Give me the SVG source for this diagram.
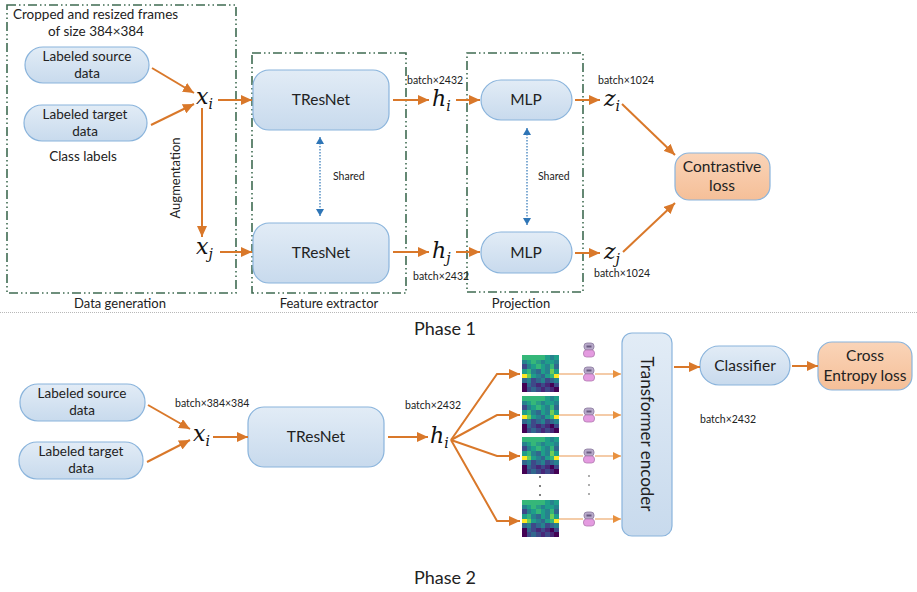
<svg xmlns="http://www.w3.org/2000/svg" xmlns:xlink="http://www.w3.org/1999/xlink" width="917" height="592" viewBox="0 0 917 592">
  <style>
    .lbl { font-family: Lato, "Liberation Sans", sans-serif; font-size: 13.5px; fill: #222; }
    .small { font-family: Lato, "Liberation Sans", sans-serif; font-size: 10.5px; fill: #222; }
    .cap { font-family: Lato, "Liberation Sans", sans-serif; font-size: 13px; fill: #222; }
    .big { font-family: Lato, "Liberation Sans", sans-serif; font-size: 15.5px; fill: #222; }
    .phase { font-family: Lato, "Liberation Sans", sans-serif; font-size: 18px; fill: #222; }
    .math { font-family: "DejaVu Serif", "Liberation Serif", serif; font-style: italic; font-size: 22px; fill: #111; }
    .sub { font-size: 14px; }
    .blue { fill: url(#gBlue); stroke: #8ab4dc; stroke-width: 1.2; }
    .peach { fill: url(#gPeach); stroke: #8ab4dc; stroke-width: 1.2; }
    .group { fill: none; stroke: #3f6b52; stroke-width: 1.6; stroke-dasharray: 9 3 1.5 3 1.5 3; }
    .arr { fill: none; stroke: #d9782a; stroke-width: 2; marker-end: url(#ah); }
    .fan { fill: none; stroke: #d9782a; stroke-width: 2; marker-end: url(#ah); }
    .thin { fill: none; stroke: #eda96e; stroke-width: 1.2; }
    .thinArr { fill: none; stroke: #eda96e; stroke-width: 1.2; marker-end: url(#ahs); }
    .shared { fill: none; stroke: #2e75b6; stroke-width: 1.2; stroke-dasharray: 1.5 1.5; marker-start: url(#bh); marker-end: url(#bh); }
    .dot { fill: #444; }
  </style>
  <defs>
    <linearGradient id="gBlue" x1="0" y1="0" x2="0" y2="1">
      <stop offset="0" stop-color="#e2ecf6"/>
      <stop offset="1" stop-color="#c8daed"/>
    </linearGradient>
    <linearGradient id="gPeach" x1="0" y1="0" x2="0" y2="1">
      <stop offset="0" stop-color="#fad4b8"/>
      <stop offset="1" stop-color="#f5bf98"/>
    </linearGradient>
    <marker id="ah" markerUnits="userSpaceOnUse" markerWidth="12" markerHeight="10" refX="11" refY="5" orient="auto">
      <path d="M0,0 L11,5 L0,10 Z" fill="#d9782a"/>
    </marker>
    <marker id="ahs" markerUnits="userSpaceOnUse" markerWidth="9" markerHeight="8" refX="8" refY="4" orient="auto">
      <path d="M0,0 L8,4 L0,8 Z" fill="#e8913f"/>
    </marker>
    <marker id="bh" markerUnits="userSpaceOnUse" markerWidth="8" markerHeight="8" refX="7" refY="4" orient="auto-start-reverse">
      <path d="M0,0 L7,4 L0,8 Z" fill="#2e75b6"/>
    </marker>
    <!-- 8x8 attention map -->
    <symbol id="heat" viewBox="0 0 8 8" preserveAspectRatio="none" shape-rendering="crispEdges">
      <g>
        <rect x="0" y="0" width="8" height="1" fill="#35b779"/>
        <rect x="5" y="0" width="1" height="1" fill="#1f9e89"/>
        <rect x="6" y="0" width="1" height="1" fill="#26828e"/>
        <rect x="7" y="0" width="1" height="1" fill="#1f9e89"/>

        <rect x="0" y="1" width="1" height="1" fill="#26828e"/>
        <rect x="1" y="1" width="1" height="1" fill="#1f9e89"/>
        <rect x="2" y="1" width="1" height="1" fill="#35b779"/>
        <rect x="3" y="1" width="1" height="1" fill="#2a9d87"/>
        <rect x="4" y="1" width="1" height="1" fill="#26828e"/>
        <rect x="5" y="1" width="1" height="1" fill="#1f9e89"/>
        <rect x="6" y="1" width="1" height="1" fill="#1f9e89"/>
        <rect x="7" y="1" width="1" height="1" fill="#26828e"/>

        <rect x="0" y="2" width="1" height="1" fill="#3e4989"/>
        <rect x="1" y="2" width="1" height="1" fill="#26828e"/>
        <rect x="2" y="2" width="1" height="1" fill="#1f9e89"/>
        <rect x="3" y="2" width="1" height="1" fill="#35b779"/>
        <rect x="4" y="2" width="1" height="1" fill="#1f9e89"/>
        <rect x="5" y="2" width="1" height="1" fill="#26828e"/>
        <rect x="6" y="2" width="1" height="1" fill="#35b779"/>
        <rect x="7" y="2" width="1" height="1" fill="#31688e"/>

        <rect x="0" y="3" width="1" height="1" fill="#1f9e89"/>
        <rect x="1" y="3" width="1" height="1" fill="#35b779"/>
        <rect x="2" y="3" width="1" height="1" fill="#26828e"/>
        <rect x="3" y="3" width="1" height="1" fill="#31688e"/>
        <rect x="4" y="3" width="1" height="1" fill="#1f9e89"/>
        <rect x="5" y="3" width="1" height="1" fill="#26828e"/>
        <rect x="6" y="3" width="1" height="1" fill="#6ece58"/>
        <rect x="7" y="3" width="1" height="1" fill="#1f9e89"/>

        <rect x="0" y="4" width="1" height="1" fill="#fde725"/>
        <rect x="1" y="4" width="1" height="1" fill="#6ece58"/>
        <rect x="2" y="4" width="1" height="1" fill="#1f9e89"/>
        <rect x="3" y="4" width="1" height="1" fill="#26828e"/>
        <rect x="4" y="4" width="1" height="1" fill="#31688e"/>
        <rect x="5" y="4" width="1" height="1" fill="#1f9e89"/>
        <rect x="6" y="4" width="1" height="1" fill="#35b779"/>
        <rect x="7" y="4" width="1" height="1" fill="#fde725"/>

        <rect x="0" y="5" width="1" height="1" fill="#31688e"/>
        <rect x="1" y="5" width="1" height="1" fill="#26828e"/>
        <rect x="2" y="5" width="1" height="1" fill="#3e4989"/>
        <rect x="3" y="5" width="1" height="1" fill="#31688e"/>
        <rect x="4" y="5" width="1" height="1" fill="#26828e"/>
        <rect x="5" y="5" width="1" height="1" fill="#3e4989"/>
        <rect x="6" y="5" width="1" height="1" fill="#31688e"/>
        <rect x="7" y="5" width="1" height="1" fill="#26828e"/>

        <rect x="0" y="6" width="1" height="1" fill="#440154"/>
        <rect x="1" y="6" width="1" height="1" fill="#31688e"/>
        <rect x="2" y="6" width="1" height="1" fill="#3e4989"/>
        <rect x="3" y="6" width="1" height="1" fill="#482878"/>
        <rect x="4" y="6" width="1" height="1" fill="#3e4989"/>
        <rect x="5" y="6" width="1" height="1" fill="#482878"/>
        <rect x="6" y="6" width="1" height="1" fill="#440154"/>
        <rect x="7" y="6" width="1" height="1" fill="#3e4989"/>

        <rect x="0" y="7" width="1" height="1" fill="#440154"/>
        <rect x="1" y="7" width="1" height="1" fill="#3e4989"/>
        <rect x="2" y="7" width="1" height="1" fill="#31688e"/>
        <rect x="3" y="7" width="1" height="1" fill="#3e4989"/>
        <rect x="4" y="7" width="1" height="1" fill="#482878"/>
        <rect x="5" y="7" width="1" height="1" fill="#3e4989"/>
        <rect x="6" y="7" width="1" height="1" fill="#482878"/>
        <rect x="7" y="7" width="1" height="1" fill="#440154"/>
      </g>
    </symbol>
    <!-- token icon -->
    <g id="tok">
      <rect x="-5" y="-7" width="10" height="7" rx="3" fill="#b7a9c9" stroke="#8a7a9e" stroke-width="0.8"/>
      <rect x="-2.5" y="-4.5" width="5" height="2" fill="#6a5a80"/>
      <rect x="-5.5" y="0" width="11" height="7" rx="3" fill="#e49be0" stroke="#b07aae" stroke-width="0.8"/>
    </g>
  </defs>

  <!-- group frames -->
  <g id="frames">
    <rect class="group" x="7" y="5" width="229" height="288"/>
    <rect class="group" x="252" y="53" width="154" height="240"/>
    <rect class="group" x="467" y="53" width="116" height="239"/>
    <text class="cap" x="120" y="308" text-anchor="middle">Data generation</text>
    <text class="cap" x="329" y="308" text-anchor="middle">Feature extractor</text>
    <text class="cap" x="521" y="308" text-anchor="middle">Projection</text>
  </g>

  <!-- phase 1 nodes -->
  <g id="p1-header">
    <text class="lbl" x="13" y="19">Cropped and resized frames</text>
    <text class="lbl" x="96" y="36" text-anchor="middle">of size 384×384</text>
  </g>
  <g id="p1-source">
    <rect class="blue" x="25" y="47" width="124" height="36" rx="18"/>
    <text class="lbl" x="87" y="61" text-anchor="middle">Labeled source</text>
    <text class="lbl" x="87" y="78" text-anchor="middle">data</text>
  </g>
  <g id="p1-target">
    <rect class="blue" x="24" y="105" width="123" height="36" rx="18"/>
    <text class="lbl" x="85" y="119" text-anchor="middle">Labeled target</text>
    <text class="lbl" x="85" y="136" text-anchor="middle">data</text>
  </g>
  <text class="lbl" x="83" y="161" text-anchor="middle">Class labels</text>
  <g id="p1-xi">
    <text class="math" x="196" y="104">x<tspan class="sub" dy="5">i</tspan></text>
  </g>
  <g id="p1-xj">
    <text class="math" x="196" y="254">x<tspan class="sub" dy="5">j</tspan></text>
  </g>
  <text class="cap" transform="translate(180,178) rotate(-90)" text-anchor="middle">Augmentation</text>

  <g id="p1-tresnet-a">
    <rect class="blue" x="253" y="70" width="136" height="60" rx="16"/>
    <text class="big" x="321" y="105" text-anchor="middle">TResNet</text>
  </g>
  <g id="p1-tresnet-b">
    <rect class="blue" x="253" y="223" width="136" height="60" rx="16"/>
    <text class="big" x="321" y="258" text-anchor="middle">TResNet</text>
  </g>
  <text class="small" x="333" y="180">Shared</text>

  <g id="p1-hi">
    <text class="math" x="432" y="106">h<tspan class="sub" dy="5">i</tspan></text>
    <text class="small" x="407" y="84">batch×2432</text>
  </g>
  <g id="p1-hj">
    <text class="math" x="432" y="258">h<tspan class="sub" dy="5">j</tspan></text>
    <text class="small" x="413" y="280">batch×2432</text>
  </g>

  <g id="p1-mlp-a">
    <rect class="blue" x="481" y="80" width="91" height="40" rx="20"/>
    <text class="big" x="526" y="105" text-anchor="middle">MLP</text>
  </g>
  <g id="p1-mlp-b">
    <rect class="blue" x="481" y="232" width="91" height="41" rx="20"/>
    <text class="big" x="526" y="258" text-anchor="middle">MLP</text>
  </g>
  <text class="small" x="538" y="180">Shared</text>

  <g id="p1-zi">
    <text class="math" x="604" y="106">z<tspan class="sub" dy="5">i</tspan></text>
    <text class="small" x="598" y="84">batch×1024</text>
  </g>
  <g id="p1-zj">
    <text class="math" x="604" y="259">z<tspan class="sub" dy="5">j</tspan></text>
    <text class="small" x="594" y="277">batch×1024</text>
  </g>

  <g id="p1-loss">
    <rect class="peach" x="675" y="153" width="95" height="47" rx="14"/>
    <text class="big" x="722" y="172" text-anchor="middle">Contrastive</text>
    <text class="big" x="722" y="191" text-anchor="middle">loss</text>
  </g>

  <!-- phase separator -->
  <line x1="0" y1="312.5" x2="917" y2="312.5" stroke="#b8b8b8" stroke-width="1" stroke-dasharray="1 1"/>
  <text class="phase" x="445" y="335" text-anchor="middle">Phase 1</text>

  <!-- phase 2 nodes -->
  <g id="p2-source">
    <rect class="blue" x="20" y="384" width="125" height="37" rx="18"/>
    <text class="lbl" x="82" y="398" text-anchor="middle">Labeled source</text>
    <text class="lbl" x="82" y="415" text-anchor="middle">data</text>
  </g>
  <g id="p2-target">
    <rect class="blue" x="19" y="442" width="124" height="37" rx="18"/>
    <text class="lbl" x="81" y="456" text-anchor="middle">Labeled target</text>
    <text class="lbl" x="81" y="473" text-anchor="middle">data</text>
  </g>
  <g id="p2-xi">
    <text class="math" x="193" y="441">x<tspan class="sub" dy="5">i</tspan></text>
    <text class="small" x="175" y="407">batch×384×384</text>
  </g>
  <g id="p2-tresnet">
    <rect class="blue" x="248" y="407" width="136" height="60" rx="16"/>
    <text class="big" x="316" y="442" text-anchor="middle">TResNet</text>
  </g>
  <g id="p2-hi">
    <text class="math" x="430" y="443">h<tspan class="sub" dy="5">i</tspan></text>
    <text class="small" x="405" y="409">batch×2432</text>
  </g>

  <g id="p2-maps">
    <use href="#heat" xlink:href="#heat" x="522" y="355" width="37" height="37"/>
    <use href="#heat" xlink:href="#heat" x="522" y="396" width="37" height="37"/>
    <use href="#heat" xlink:href="#heat" x="522" y="437" width="37" height="37"/>
    <use href="#heat" xlink:href="#heat" x="522" y="500" width="37" height="37"/>
    <circle class="dot" cx="540" cy="477" r="0.9"/>
    <circle class="dot" cx="540" cy="486" r="0.9"/>
    <circle class="dot" cx="540" cy="495" r="0.9"/>
  </g>

  <g id="p2-tokens">
    <use href="#tok" xlink:href="#tok" x="589" y="350"/>
    <use href="#tok" xlink:href="#tok" x="589" y="374"/>
    <use href="#tok" xlink:href="#tok" x="589" y="415"/>
    <use href="#tok" xlink:href="#tok" x="589" y="456"/>
    <use href="#tok" xlink:href="#tok" x="589" y="519"/>
    <circle class="dot" cx="589" cy="476" r="0.8"/>
    <circle class="dot" cx="589" cy="485" r="0.8"/>
    <circle class="dot" cx="589" cy="494" r="0.8"/>
  </g>

  <g id="p2-encoder">
    <rect class="blue" x="622" y="333" width="50" height="203" rx="10"/>
    <text class="big" transform="translate(641,434) rotate(90)" text-anchor="middle" style="font-size:17px">Transformer encoder</text>
  </g>
  <g id="p2-classifier">
    <rect class="blue" x="700" y="346" width="90" height="39" rx="19"/>
    <text class="big" x="745" y="371" text-anchor="middle">Classifier</text>
  </g>
  <text class="small" x="700" y="423">batch×2432</text>
  <g id="p2-ce">
    <rect class="peach" x="818" y="342" width="94" height="48" rx="14"/>
    <text class="big" x="865" y="361" text-anchor="middle">Cross</text>
    <text class="big" x="865" y="381" text-anchor="middle">Entropy loss</text>
  </g>
  <text class="phase" x="445" y="584" text-anchor="middle">Phase 2</text>

  <!-- connectors -->
  <g id="connectors">
    <line class="arr" x1="152" y1="68" x2="194" y2="93"/>
    <line class="arr" x1="151" y1="125" x2="194" y2="104"/>
    <line class="arr" x1="218" y1="100" x2="252" y2="100"/>
    <line class="arr" x1="202" y1="108" x2="202" y2="237"/>
    <line class="arr" x1="220" y1="252" x2="252" y2="252"/>

    <line class="shared" x1="320" y1="137" x2="320" y2="216"/>
    <line class="shared" x1="527" y1="128" x2="527" y2="225"/>

    <line class="arr" x1="393" y1="100" x2="429" y2="100"/>
    <line class="arr" x1="393" y1="252" x2="429" y2="252"/>
    <line class="arr" x1="456" y1="100" x2="480" y2="100"/>
    <line class="arr" x1="456" y1="252" x2="480" y2="252"/>
    <line class="arr" x1="575" y1="100" x2="600" y2="100"/>
    <line class="arr" x1="575" y1="253" x2="600" y2="253"/>
    <line class="arr" x1="622" y1="104" x2="675" y2="155"/>
    <line class="arr" x1="623" y1="252" x2="675" y2="203"/>

    <line class="arr" x1="148" y1="405" x2="190" y2="429"/>
    <line class="arr" x1="147" y1="462" x2="190" y2="440"/>
    <line class="arr" x1="213" y1="437" x2="248" y2="437"/>
    <line class="arr" x1="388" y1="437" x2="428" y2="437"/>

    <polyline class="fan" points="451,440 497,374 520,374"/>
    <polyline class="fan" points="451,440 497,415 520,415"/>
    <polyline class="fan" points="451,440 497,456 520,456"/>
    <polyline class="fan" points="451,440 497,521 520,521"/>

    <line class="thin" x1="559" y1="374" x2="583" y2="374"/>
    <line class="thin" x1="559" y1="415" x2="583" y2="415"/>
    <line class="thin" x1="559" y1="456" x2="583" y2="456"/>
    <line class="thin" x1="559" y1="519" x2="583" y2="519"/>
    <line class="thinArr" x1="595" y1="374" x2="621" y2="374"/>
    <line class="thinArr" x1="595" y1="415" x2="621" y2="415"/>
    <line class="thinArr" x1="595" y1="456" x2="621" y2="456"/>
    <line class="thinArr" x1="595" y1="519" x2="621" y2="519"/>

    <line class="arr" x1="674" y1="367" x2="700" y2="367"/>
    <line class="arr" x1="792" y1="366" x2="818" y2="366"/>
  </g>
</svg>
